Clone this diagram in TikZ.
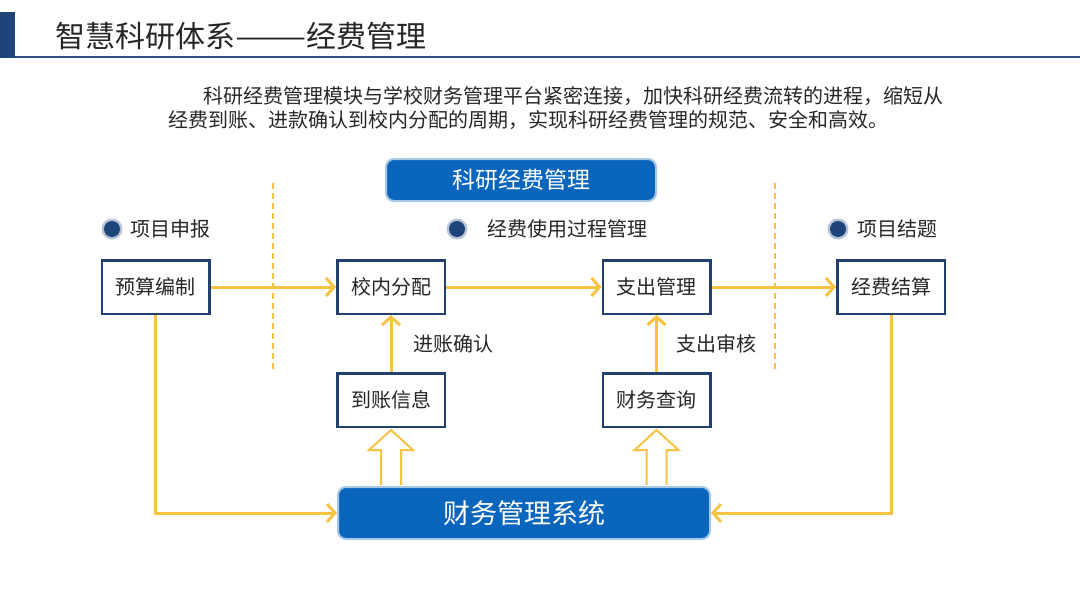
\documentclass[tikz,border=0pt]{standalone}
\usepackage{fontspec}
\newfontfamily\cjk{Noto Sans CJK SC}
\usetikzlibrary{arrows.meta,calc}
\definecolor{gold}{HTML}{F6C343}
\definecolor{navy}{HTML}{22406E}
\definecolor{hblue}{HTML}{2E4F80}
\definecolor{bluefill}{HTML}{0A65BC}
\definecolor{blueedge}{HTML}{A8C8E8}
\definecolor{halo}{HTML}{B7C3D6}
\definecolor{dot}{HTML}{1F4479}
\definecolor{txt}{HTML}{262626}
\tikzset{
  box/.style={draw=navy, line width=2.5pt, fill=white, minimum width=107.5pt, minimum height=53.5pt, inner sep=0pt, font=\cjk\fontsize{20}{24}\selectfont, text=txt},
  bluebox/.style={draw=blueedge, line width=2pt, fill=bluefill, rounded corners=8pt, text=white, inner sep=0pt},
  flow/.style={draw=gold, line width=3pt, -{Straight Barb[length=8pt,width=18pt]}},
  lbl/.style={font=\cjk\fontsize{20}{24}\selectfont, text=txt, inner sep=0pt},
  para/.style={font=\cjk\fontsize{20}{24}\selectfont, text=txt, inner sep=0pt, anchor=west},
  divider/.style={draw=gold, line width=2pt, dash pattern=on 6pt off 4pt},
  blockarrow/.style={draw=gold, line width=2pt, fill=white, line join=miter},
}
\begin{document}
\begin{tikzpicture}[x=1pt,y=-1pt]
\useasboundingbox (0,0) rectangle (1080,608);
% header
\fill[dot] (0,12) rectangle (15,58);
\draw[hblue, line width=2pt] (15,57) -- (1080,57);
\node[anchor=west, inner sep=0pt, font=\cjk\fontsize{30}{34}\selectfont, text=txt] (title) at (55,36) {智慧科研体系\scalebox{1.42}[1]{——}经费管理};
\node[para] (p1) at (203,96) {科研经费管理模块与学校财务管理平台紧密连接，加快科研经费流转的进程，缩短从};
\node[para] (p2) at (168,120) {经费到账、进款确认到校内分配的周期，实现科研经费管理的规范、安全和高效。};
% top blue box
\node[bluebox, minimum width=270pt, minimum height=42pt, font=\cjk\fontsize{23}{26}\selectfont] (kyjf) at (521,180) {科研经费管理};
% dividers
\coordinate (d1t) at (273,183); \coordinate (d1b) at (273,372);
\coordinate (d2t) at (775,183); \coordinate (d2b) at (775,372);
\draw[divider] (d1t) -- (d1b);
\draw[divider] (d2t) -- (d2b);
% bullets
\foreach \x/\t/\n/\g in {112/项目申报/b1/18, 457/经费使用过程管理/b2/30, 838/项目结题/b3/19}{
  \fill[halo] (\x,229) circle (10.5);
  \fill[dot] (\x,229) circle (8);
  \node[lbl, anchor=west] (\n) at (\x+\g,229) {\t};
}
% boxes
\node[box] (ysbz) at (155.5,287) {预算编制};
\node[box] (xnfp) at (391,287) {校内分配};
\node[box] (zcgl) at (656.5,287) {支出管理};
\node[box] (jfjs) at (891,287) {经费结算};
\node[box] (dzxx) at (391,400) {到账信息};
\node[box] (cwcx) at (656.5,400) {财务查询};
\node[bluebox, minimum width=372pt, minimum height=52pt, font=\cjk\fontsize{27}{30}\selectfont] (sys) at (524,513) {财务管理系统};
% flows
\draw[flow] (ysbz) -- (xnfp);
\draw[flow] (xnfp) -- (zcgl);
\draw[flow] (zcgl) -- (jfjs);
\draw[flow] (dzxx) -- (xnfp);
\draw[flow] (cwcx) -- (zcgl);
\draw[flow] (ysbz.south) |- (sys.west);
\draw[flow] (jfjs.south) |- (sys.east);
\node[lbl, anchor=west] (l1) at (413,344) {进账确认};
\node[lbl, anchor=west] (l2) at (676,344) {支出审核};
% block arrows
\foreach \n in {dzxx, cwcx}{
  \coordinate (a) at (\n.south |- sys.north);
  \draw[blockarrow] ($(a)+(-10,-1)$) -- ($(a)+(-10,-36)$) -- ($(a)+(-22,-36)$) -- ($(a)+(0,-56)$) -- ($(a)+(22,-36)$) -- ($(a)+(10,-36)$) -- ($(a)+(10,-1)$);
}
\end{tikzpicture}
\end{document}
